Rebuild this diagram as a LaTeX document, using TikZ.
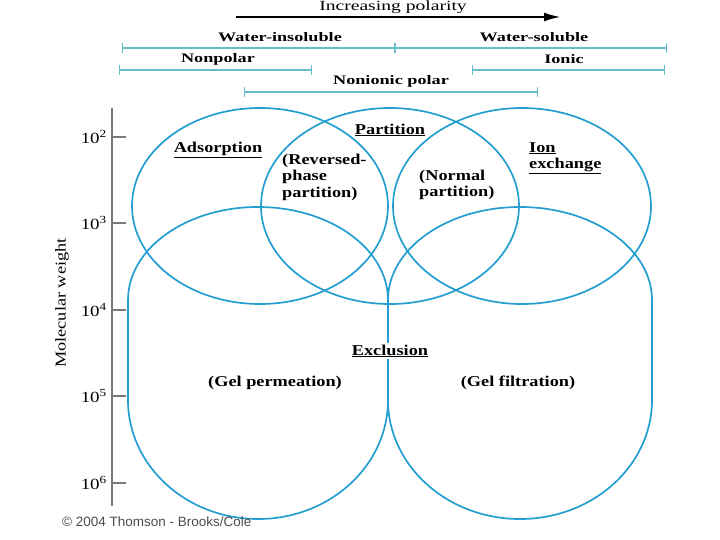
\documentclass[tikz,border=0pt]{standalone}
\usepackage{fontspec}
\setmainfont[FakeStretch=1.22]{Liberation Serif}
\newfontfamily\headfont[FakeStretch=1.4]{Liberation Serif}
\setsansfont{Liberation Sans}
\usetikzlibrary{arrows.meta}

\definecolor{ringblue}{RGB}{36,158,208}
\definecolor{barblue}{RGB}{105,188,202}
\definecolor{axisgray}{RGB}{120,120,120}

\begin{document}
\begin{tikzpicture}[
        x=1pt, y=-1pt,
        ring/.style={draw=ringblue, line width=1.7pt},
        rangebar/.style={draw=barblue, line width=1.3pt, {Bar[width=10pt]}-{Bar[width=10pt]}},
        barlabel/.style={font=\headfont\fontsize{13}{15}\selectfont\bfseries, inner sep=0pt},
        method/.style={font=\fontsize{15}{16.5}\selectfont\bfseries, inner sep=0pt, align=left},
        ticklabel/.style={font=\fontsize{15.5}{17}\selectfont, anchor=east, inner sep=0pt}
    ]
        \useasboundingbox (0,0) rectangle (720,540);

        % Polarity arrow
        \node[font=\headfont\fontsize{14}{16}\selectfont, inner sep=0pt] (polarity) at (393,7) {Increasing polarity};
        \coordinate (pol_start) at (236,17);
        \coordinate (pol_end) at (561,17);
        \draw[line width=2.4pt, -{Latex[length=17pt, width=9pt]}] (pol_start) -- (pol_end);

        % Range bars
        \coordinate (water_l) at (122,48);
        \coordinate (water_m) at (395,48);
        \coordinate (water_r) at (667,48);
        \coordinate (nonpolar_l) at (119,70);
        \coordinate (nonpolar_r) at (312,70);
        \coordinate (ionic_l) at (472,70);
        \coordinate (ionic_r) at (665,70);
        \coordinate (nonionic_l) at (244,92);
        \coordinate (nonionic_r) at (538,92);
        \draw[rangebar] (water_l) -- (water_m);
        \draw[rangebar] (water_m) -- (water_r);
        \draw[rangebar] (nonpolar_l) -- (nonpolar_r);
        \draw[rangebar] (ionic_l) -- (ionic_r);
        \draw[rangebar] (nonionic_l) -- (nonionic_r);

        \node[barlabel] (insoluble) at (280,37) {Water-insoluble};
        \node[barlabel] (soluble) at (534,37) {Water-soluble};
        \node[barlabel] (nonpolar) at (218,59) {Nonpolar};
        \node[barlabel] (ionic) at (564,59) {Ionic};
        \node[barlabel] (nonionic) at (391,81) {Nonionic polar};

        % Molecular weight axis
        \coordinate (axis_top) at (112,108);
        \coordinate (axis_bot) at (112,506);
        \draw[axisgray, line width=1.4pt] (axis_top) -- (axis_bot);
        \foreach \e/\y in {2/137, 3/223, 4/310, 5/396, 6/483} {
            \coordinate (tick\e) at (112,\y);
            \coordinate (tickend\e) at (126,\y);
            \draw[axisgray, line width=1.2pt] (tick\e) -- (tickend\e);
            \node[ticklabel] (lab\e) at (107,\y) {10\textsuperscript{\e}};
        }
        \node[font=\fontsize{15}{17}\selectfont, rotate=90] (mw) at (62,303) {Molecular weight};

        % Upper rings
        \draw[ring] (260,206) ellipse [x radius=128, y radius=98];
        \draw[ring] (390,206) ellipse [x radius=129, y radius=98];
        \draw[ring] (522,206) ellipse [x radius=129, y radius=98];

        % Lower (exclusion) shapes
        \draw[ring] (128,400) -- (128,300)
            arc[start angle=180, end angle=360, x radius=130, y radius=93]
            -- (388,400)
            arc[start angle=0, end angle=180, x radius=130, y radius=119] -- cycle;
        \draw[ring] (388,400) -- (388,300)
            arc[start angle=180, end angle=360, x radius=132, y radius=93]
            -- (652,400)
            arc[start angle=0, end angle=180, x radius=132, y radius=119] -- cycle;

        % Method labels
        \node[method] (adsorption) at (218,150) {\underline{Adsorption}};
        \node[method] (partition) at (390,130) {\underline{Partition}};
        \node[method, anchor=west] (reversed) at (282,177) {(Reversed-\\phase\\partition)};
        \node[method, anchor=west] (normal) at (419,185) {(Normal\\partition)};
        \node[method, anchor=west] (ionex) at (529,158) {\underline{Ion}\\\underline{exchange}};
        \node[method, fill=white, inner sep=2pt] (exclusion) at (390,351) {\underline{Exclusion}};
        \node[method] (gelperm) at (275,383) {(Gel permeation)};
        \node[method] (gelfilt) at (518,383) {(Gel filtration)};

        % Credit line
        \node[font=\sffamily\fontsize{13.5}{15}\selectfont, text=black!70, anchor=west, inner sep=0pt] (credit) at (62,522) {\textcopyright{} 2004 Thomson - Brooks/Cole};
    \end{tikzpicture}
\end{document}
